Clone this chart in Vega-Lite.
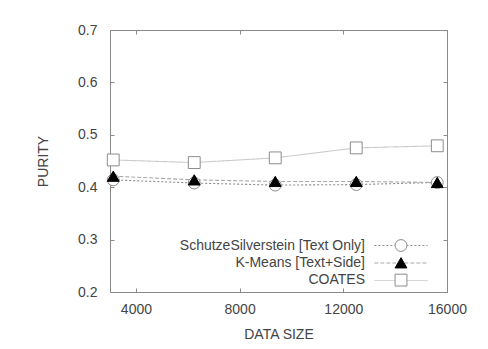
{
  "$schema": "https://vega.github.io/schema/vega-lite/v6.json",
  "width": 337,
  "height": 262,
  "autosize": {"type": "none"},
  "padding": {"left": 110, "top": 30, "right": 41, "bottom": 57},
  "background": "white",
  "config": {
    "font": "Liberation Sans",
    "view": {"stroke": "#8a8a8a", "strokeWidth": 1},
    "axis": {
      "domain": false,
      "grid": false,
      "labelFont": "Liberation Sans",
      "labelFontSize": 14,
      "labelColor": "#444",
      "labelFlush": false,
      "titleFont": "Liberation Sans",
      "titleFontSize": 14,
      "titleFontWeight": "normal",
      "titleColor": "#444",
      "tickColor": "#8a8a8a",
      "tickSize": -4
    },
    "legend": {
      "orient": "none",
      "padding": 0,
      "labelFont": "Liberation Sans",
      "labelFontSize": 14,
      "labelAlign": "right",
      "labelLimit": 400,
      "rowPadding": 1.3,
      "symbolStrokeWidth": 1
    }
  },
  "data": {
    "values": [
      {"method": "SchutzeSilverstein [Text Only]", "size": 3125, "purity": 0.414},
      {"method": "SchutzeSilverstein [Text Only]", "size": 6250, "purity": 0.408},
      {"method": "SchutzeSilverstein [Text Only]", "size": 9375, "purity": 0.404},
      {"method": "SchutzeSilverstein [Text Only]", "size": 12500, "purity": 0.405},
      {"method": "SchutzeSilverstein [Text Only]", "size": 15625, "purity": 0.409},
      {"method": "K-Means [Text+Side]", "size": 3125, "purity": 0.421},
      {"method": "K-Means [Text+Side]", "size": 6250, "purity": 0.414},
      {"method": "K-Means [Text+Side]", "size": 9375, "purity": 0.411},
      {"method": "K-Means [Text+Side]", "size": 12500, "purity": 0.411},
      {"method": "K-Means [Text+Side]", "size": 15625, "purity": 0.409},
      {"method": "COATES", "size": 3125, "purity": 0.452},
      {"method": "COATES", "size": 6250, "purity": 0.447},
      {"method": "COATES", "size": 9375, "purity": 0.456},
      {"method": "COATES", "size": 12500, "purity": 0.475},
      {"method": "COATES", "size": 15625, "purity": 0.479}
    ]
  },
  "resolve": {"axis": {"x": "independent", "y": "independent"}},
  "layer": [
    {
      "mark": {"type": "line", "strokeWidth": 1.1},
      "encoding": {
        "x": {
          "field": "size",
          "type": "quantitative",
          "scale": {"domain": [3000, 16000], "nice": false},
          "axis": {"values": [4000, 8000, 12000, 16000], "format": "d", "title": "DATA SIZE", "labelPadding": 14, "titlePadding": 11}
        },
        "y": {
          "field": "purity",
          "type": "quantitative",
          "scale": {"domain": [0.2, 0.7], "nice": false, "zero": false},
          "axis": {"values": [0.2, 0.3, 0.4, 0.5, 0.6, 0.7], "format": ".1f", "title": "PURITY", "labelPadding": 17, "titlePadding": 27}
        },
        "color": {
          "field": "method",
          "type": "nominal",
          "scale": {"domain": ["SchutzeSilverstein [Text Only]", "K-Means [Text+Side]", "COATES"], "range": ["#8c8c8c", "#a8a8a8", "#cccccc"]},
          "legend": {"title": null, "legendX": 284, "legendY": 208.5, "symbolType": "M-4.5,0H4.5", "symbolSize": 140, "labelExpr": "''", "rowPadding": 3.5, "labelOffset": -43}
        },
        "strokeDash": {
          "field": "method",
          "type": "nominal",
          "scale": {"domain": ["SchutzeSilverstein [Text Only]", "K-Means [Text+Side]", "COATES"], "range": [[2, 2], [4, 2], [1, 0]]},
          "legend": {"title": null, "legendX": 284, "legendY": 208.5, "symbolType": "M-4.5,0H4.5", "symbolSize": 140, "labelExpr": "''", "rowPadding": 3.5, "labelOffset": -43}
        }
      }
    },
    {
      "mark": {"type": "point", "size": 140, "opacity": 1, "strokeWidth": 1},
      "encoding": {
        "x": {
          "field": "size",
          "type": "quantitative",
          "axis": {"orient": "top", "values": [4000, 8000, 12000, 16000], "labels": false, "title": null}
        },
        "y": {
          "field": "purity",
          "type": "quantitative",
          "axis": {"orient": "right", "values": [0.2, 0.3, 0.4, 0.5, 0.6, 0.7], "labels": false, "title": null}
        },
        "shape": {
          "field": "method",
          "type": "nominal",
          "scale": {"domain": ["COATES", "K-Means [Text+Side]", "SchutzeSilverstein [Text Only]"], "range": ["square", "triangle-up", "circle"]},
          "legend": {"title": null, "values": ["SchutzeSilverstein [Text Only]", "K-Means [Text+Side]", "COATES"], "legendX": 284, "legendY": 208.5, "symbolSize": 140, "labelColor": "#444", "labelOffset": -43}
        },
        "fill": {
          "field": "method",
          "type": "nominal",
          "scale": {"domain": ["COATES", "K-Means [Text+Side]", "SchutzeSilverstein [Text Only]"], "range": ["white", "black", "white"]},
          "legend": {"title": null, "values": ["SchutzeSilverstein [Text Only]", "K-Means [Text+Side]", "COATES"], "legendX": 284, "legendY": 208.5, "symbolSize": 140, "labelColor": "#444", "labelOffset": -43}
        },
        "stroke": {
          "field": "method",
          "type": "nominal",
          "scale": {"domain": ["COATES", "K-Means [Text+Side]", "SchutzeSilverstein [Text Only]"], "range": ["#8c8c8c", "black", "#8c8c8c"]},
          "legend": {"title": null, "values": ["SchutzeSilverstein [Text Only]", "K-Means [Text+Side]", "COATES"], "legendX": 284, "legendY": 208.5, "symbolSize": 140, "labelColor": "#444", "labelOffset": -43}
        }
      }
    }
  ]
}
